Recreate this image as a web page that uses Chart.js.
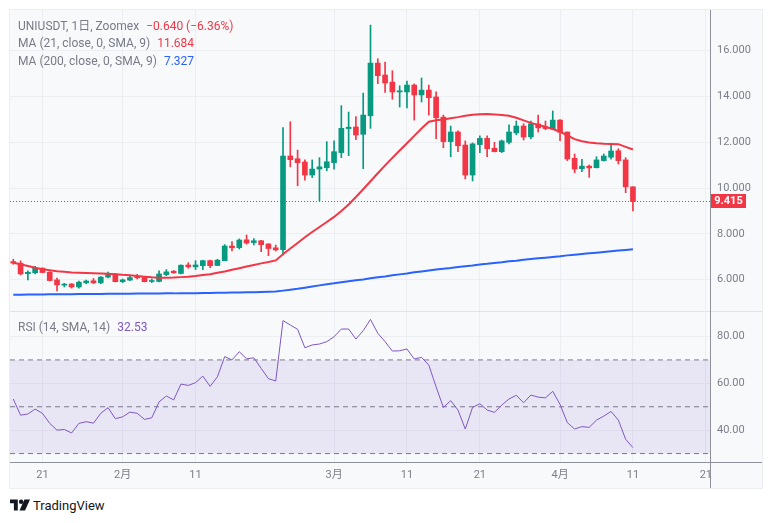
<!DOCTYPE html>
<html>
<head>
<meta charset="utf-8">
<script src="https://cdn.jsdelivr.net/npm/chart.js@4.4.1/dist/chart.umd.min.js"></script>
<style>
  body { margin: 0; background: #fff; width: 772px; height: 523px; overflow: hidden;
         font-family: Roboto, "Noto Sans CJK JP", sans-serif; }
  #frame { position: absolute; left: 10px; top: 10px; width: 752px; height: 478px;
           background: #f8f9fb; box-shadow: 0 0 0 1px #eceef1; }
  canvas { position: absolute; left: 10px; }
  .ln { position: absolute; }
  .lg { position: absolute; left: 18px; font-size: 12px; line-height: 16px; color: #787b86; white-space: nowrap; }
  .lg span { margin-left: 7px; }
  #logo { position: absolute; left: 10px; top: 497px; height: 16px; display: flex; align-items: center;
          font-size: 13px; font-weight: 400; color: #131722; }
  #logo svg { margin-right: 3px; }
</style>
</head>
<body>
<div id="frame"></div>
<canvas id="price" width="752" height="301" style="top:10px"></canvas>
<canvas id="rsi" width="752" height="177" style="top:311px"></canvas>
<div class="ln" style="left:10px;top:311px;width:752px;height:1px;background:#e0e3eb"></div>
<div class="ln" style="left:10px;top:462px;width:752px;height:1px;background:#8e9199"></div>
<div class="ln" style="left:710px;top:10px;width:1px;height:478px;background:#8e9199"></div>

<div class="lg" style="top:18px">UNIUSDT, 1日, Zoomex<span style="color:#f23645">−0.640 (−6.36%)</span></div>
<div class="lg" style="top:35px">MA (21, close, 0, SMA, 9)<span style="color:#f23645">11.684</span></div>
<div class="lg" style="top:53px">MA (200, close, 0, SMA, 9)<span style="color:#2962ff">7.327</span></div>
<div class="lg" style="top:319px">RSI (14, SMA, 14)<span style="color:#7e57c2">32.53</span></div>
<div id="logo">
  <svg width="20" height="12" viewBox="0 0 36 20"><path d="M0 0h14v20H7V7H0z" fill="#131722"/><circle cx="20" cy="4" r="4" fill="#131722"/><path d="M26 0h10l-9 20H17z" fill="#131722"/></svg>TradingView
</div>

<script>
// daily candles, 17 Jan .. 11 Apr (index = day)
const opens  = [6.79,6.72,6.26,6.30,6.50,6.32,5.99,5.76,5.81,5.68, 5.86,5.95,5.86,6.11,6.24,5.91,5.98,6.13,6.09,5.92,
                5.92,6.22,6.37,6.27,6.64,6.56,6.61,6.83,6.62,6.83, 7.47,7.40,7.74,7.62,7.70,7.56,7.39,7.31,11.40,11.28,
                11.14,10.57,10.83,10.89,11.11,11.55,12.60,12.67,12.35,13.16, 15.46,14.94,14.63,14.20,14.20,14.50,14.07,14.28,13.98,13.10,
                12.03,12.45,11.88,10.57,11.90,12.17,11.74,11.59,12.00,12.41, 12.71,12.24,12.80,12.66,12.58,12.97,12.45,11.30,10.85,10.96,
                10.89,11.20,11.35,11.63,11.23,10.055];
const highs  = [6.89,6.82,6.38,6.58,6.52,6.35,6.07,5.84,5.83,5.94, 5.98,6.05,6.14,6.33,6.27,6.03,6.18,6.23,6.10,6.03,
                6.38,6.44,6.40,6.65,6.74,6.83,6.85,6.86,6.89,7.53, 7.66,7.78,7.95,7.79,7.72,7.57,7.51,12.64,12.90,11.66,
                11.23,11.23,11.33,12.03,12.06,13.60,13.32,13.12,14.15,17.12, 15.65,15.51,15.13,14.47,14.68,14.55,14.81,14.50,14.20,13.19,
                12.71,12.50,12.06,11.97,12.28,12.28,12.00,12.10,12.76,12.93, 12.81,12.93,13.19,12.93,13.37,12.99,12.45,11.49,11.26,11.01,
                11.37,11.49,11.87,11.72,11.33,10.06];
const lows   = [6.67,6.21,5.99,6.25,6.30,5.94,5.51,5.68,5.63,5.63, 5.82,5.83,5.82,6.08,5.90,5.87,5.95,6.03,5.90,5.87,
                5.90,6.17,6.27,6.25,6.50,6.44,6.44,6.52,6.61,6.82, 7.25,7.34,7.55,7.52,7.22,7.05,7.25,7.08,10.93,10.10,
                10.35,10.46,9.44,10.76,10.83,11.33,11.42,12.11,10.85,12.61, 14.56,14.18,13.88,13.54,13.50,12.97,13.76,13.19,12.16,11.76,
                11.37,11.59,10.40,10.31,11.55,11.37,11.58,11.55,11.93,12.33, 12.10,12.16,12.45,12.55,12.56,12.07,11.20,10.67,10.72,10.47,
                10.88,11.18,11.26,11.05,9.80,9.00];
const closes = [6.72,6.25,6.32,6.50,6.31,5.96,5.77,5.79,5.68,5.89, 5.94,5.86,6.11,6.22,5.91,5.99,6.09,6.08,5.91,5.96,
                6.25,6.34,6.30,6.63,6.56,6.64,6.83,6.61,6.85,7.47, 7.39,7.73,7.60,7.70,7.53,7.36,7.30,11.40,11.24,11.11,
                10.57,10.83,10.93,11.15,11.59,12.61,12.66,12.32,13.19,15.46, 14.91,14.59,14.20,14.25,14.50,14.07,14.28,13.95,13.07,12.03,
                12.45,11.85,10.57,11.93,12.17,11.72,11.59,12.06,12.45,12.71, 12.23,12.81,12.63,12.60,12.97,12.44,11.27,10.83,10.96,10.88,
                11.23,11.40,11.62,11.20,10.055,9.415];
const ma21   = [6.74,6.67,6.60,6.52,6.45,6.41,6.37,6.34,6.31,6.30, 6.29,6.28,6.27,6.26,6.24,6.21,6.19,6.16,6.13,6.10,
                6.08,6.08,6.09,6.11,6.13,6.16,6.20,6.24,6.30,6.36, 6.43,6.50,6.57,6.64,6.71,6.77,6.84,7.11,7.36,7.60,
                7.85,8.08,8.30,8.52,8.74,9.00,9.28,9.61,9.95,10.30, 10.65,10.99,11.32,11.64,11.96,12.28,12.60,12.90,12.96,13.00,
                13.05,13.10,13.16,13.20,13.23,13.24,13.22,13.19,13.16,13.07, 12.96,12.85,12.76,12.68,12.58,12.46,12.30,12.14,12.05,11.99,
                11.96,11.94,11.93,11.92,11.80,11.684];
const ma200  = [5.34,5.34,5.35,5.35,5.35,5.36,5.36,5.36,5.36,5.37, 5.37,5.37,5.37,5.38,5.38,5.38,5.38,5.39,5.39,5.39,
                5.39,5.40,5.40,5.41,5.41,5.41,5.42,5.42,5.43,5.43, 5.44,5.44,5.45,5.45,5.46,5.47,5.48,5.52,5.56,5.60,
                5.65,5.70,5.75,5.80,5.84,5.89,5.93,5.97,6.01,6.06, 6.10,6.14,6.19,6.23,6.27,6.32,6.36,6.40,6.44,6.48,
                6.51,6.55,6.59,6.62,6.66,6.69,6.73,6.76,6.80,6.83, 6.87,6.90,6.93,6.96,6.99,7.02,7.06,7.09,7.12,7.15,
                7.18,7.21,7.24,7.27,7.30,7.327];
const rsi    = [53.3,46.4,46.9,49.0,47.2,42.9,40.0,40.3,38.8,42.9, 43.6,43.0,47.2,49.6,44.9,45.7,47.7,47.2,44.6,45.3,
                52.1,54.6,52.9,59.7,59.1,60.3,63.1,58.7,62.8,71.4, 70.0,73.5,70.5,70.9,66.4,62.0,61.0,86.8,84.9,83.1,
                75.2,76.4,76.8,77.8,79.9,83.2,83.2,78.9,82.5,87.3, 81.4,77.8,73.8,73.9,74.7,70.4,71.1,67.8,58.5,49.7,
                52.6,48.6,40.5,49.7,51.3,48.6,47.6,50.7,53.3,54.9, 51.7,55.0,54.1,53.8,56.6,51.0,43.2,40.5,41.5,41.2,
                44.3,46.0,48.0,44.3,36.1,32.53];

const tickDays   = [4, 15, 25, 44, 54, 64, 75, 85, 95];
const tickLabels = ['21', '2月', '11', '3月', '11', '21', '4月', '11', '21'];
const priceTicks = [6, 8, 10, 12, 14, 16];
const rsiTicks   = [40, 60, 80];
const rsiLevels  = [70, 50, 30];

// view window
const X_MIN = -0.45, X_MAX = 95.57;
const GRID = '#eceef2';
const TXT = '#7c7f89';
const FONT = { family: 'Roboto, "Noto Sans CJK JP", sans-serif', size: 11 };

const lastClose = closes[closes.length - 1];
const colors = closes.map((c, i) => c >= opens[i] ? '#089981' : '#f23645');
const pts = arr => arr.map((v, i) => ({ x: i, y: v }));

function xScale(showLabels) {
  return {
    type: 'linear', min: X_MIN, max: X_MAX, bounds: 'data', offset: false,
    grid: { color: GRID, drawTicks: false, offset: false },
    border: { display: false },
    ticks: {
      display: showLabels, autoSkip: false, maxRotation: 0, padding: 7,
      color: TXT, font: FONT,
      callback: v => tickLabels[tickDays.indexOf(v)]
    },
    afterBuildTicks: s => { s.ticks = tickDays.map(v => ({ value: v })); },
    afterFit: s => {
      s.height = showLabels ? 26 : 0;
      s.paddingLeft = 0; s.paddingRight = 0;
    }
  };
}

function yScale(min, max, ticks, digits) {
  return {
    position: 'right', min: min, max: max, bounds: 'data',
    grid: { color: GRID, drawTicks: false },
    border: { display: false },
    ticks: { color: TXT, font: FONT, padding: 7, callback: v => v.toFixed(digits) },
    afterBuildTicks: s => { s.ticks = ticks.map(v => ({ value: v })); },
    afterFit: s => {
      s.width = 52;
      s.paddingTop = 0; s.paddingBottom = 0;
    }
  };
}

// last price: dotted line across the pane + tag on the axis
const priceTag = {
  id: 'priceTag',
  afterDatasetsDraw(chart) {
    const ctx = chart.ctx, area = chart.chartArea;
    const y = Math.round(chart.scales.y.getPixelForValue(lastClose));
    ctx.save();
    ctx.strokeStyle = '#f23645';
    ctx.lineWidth = 1;
    ctx.setLineDash([1, 2]);
    ctx.beginPath();
    ctx.moveTo(area.left, y + 0.5);
    ctx.lineTo(area.right, y + 0.5);
    ctx.stroke();
    ctx.restore();
  },
  afterDraw(chart) {
    const ctx = chart.ctx;
    const y = Math.round(chart.scales.y.getPixelForValue(lastClose));
    const x0 = chart.chartArea.right + 1;
    ctx.save();
    ctx.fillStyle = '#f23645';
    ctx.fillRect(x0, y - 7, 35, 14);
    ctx.fillStyle = '#fff';
    ctx.font = 'bold 11px Roboto, sans-serif';
    ctx.textAlign = 'center';
    ctx.textBaseline = 'middle';
    ctx.fillText(lastClose.toFixed(3), x0 + 17.5, y + 0.5);
    ctx.restore();
  }
};

new Chart(document.getElementById('price'), {
  type: 'line',
  data: {
    datasets: [
      { data: pts(ma21), borderColor: '#f23645', borderWidth: 2, pointRadius: 0, order: 0 },
      { data: pts(ma200), borderColor: '#2962ff', borderWidth: 2, pointRadius: 0, order: 0 },
      { type: 'bar', data: closes.map((c, i) => ({ x: i, y: [Math.min(c, opens[i]), Math.max(c, opens[i])] })),
        backgroundColor: colors, barThickness: 5, minBarLength: 1, grouped: false, order: 2 },
      { type: 'bar', data: closes.map((c, i) => ({ x: i, y: [lows[i], highs[i]] })),
        backgroundColor: colors, barThickness: 1, grouped: false, order: 3 }
    ]
  },
  options: {
    responsive: false, animation: false,
    layout: { padding: 0 },
    plugins: { legend: { display: false }, tooltip: { enabled: false } },
    scales: { x: xScale(false), y: yScale(4.63, 17.78, priceTicks, 3) }
  },
  plugins: [priceTag]
});

const levelSet = rsiLevels.map((lv, k) => ({
  data: [{ x: X_MIN, y: lv }, { x: X_MAX, y: lv }],
  borderColor: '#787b86', borderWidth: 1, borderDash: [5, 4], pointRadius: 0, order: 1,
  fill: k === 0 ? { target: 3 } : false,
  backgroundColor: 'rgba(126, 87, 194, 0.12)'
}));

new Chart(document.getElementById('rsi'), {
  type: 'line',
  data: {
    datasets: [
      { data: pts(rsi), borderColor: '#7e57c2', borderWidth: 1, pointRadius: 0, order: 0 },
      ...levelSet
    ]
  },
  options: {
    responsive: false, animation: false,
    layout: { padding: 0 },
    plugins: { legend: { display: false }, tooltip: { enabled: false } },
    scales: { x: xScale(true), y: yScale(26.4, 90.9, rsiTicks, 2) }
  }
});
</script>
</body>
</html>
